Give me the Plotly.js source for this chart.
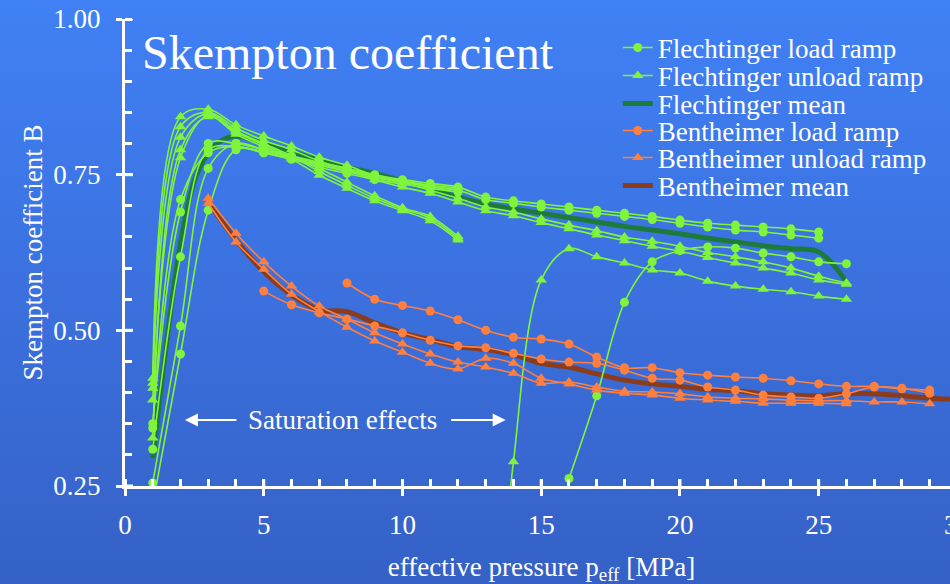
<!DOCTYPE html>
<html><head><meta charset="utf-8">
<script src="https://cdn.plot.ly/plotly-3.0.1.min.js"></script>
<style>
html,body{margin:0;padding:0;overflow:hidden;width:950px;height:584px;}
body{background:linear-gradient(to bottom,#4081f5 0%,#3b70de 50%,#3561c6 100%);}
#chart{width:960px;height:600px;}
</style></head><body><div id="chart"></div>
<script>
// ---- Flechtinger load ramps (circles) ----
const flLoad1X = [1,2,3,4,5,6,7,8,9,10,11,12,13,14,15,16,17,18,19,20,21,22,23,24,25];
const flLoad1Y = [0.35,0.69,0.80,0.80,0.79,0.778,0.768,0.76,0.75,0.742,0.736,0.73,0.714,0.708,0.703,0.698,0.693,0.688,0.683,0.677,0.672,0.669,0.666,0.663,0.658];
const flLoad2X = [1,2,3,4,5,6,7,8,9,10,11,12,13,14,15,16,17,18,19,20,21,22,23,24,25];
const flLoad2Y = [0.343,0.71,0.785,0.795,0.785,0.775,0.765,0.755,0.745,0.738,0.73,0.725,0.71,0.704,0.698,0.693,0.688,0.683,0.678,0.672,0.666,0.661,0.658,0.653,0.648];
const flLoad3X = [1,2,3,4,5,6,7,8,9,10,11,12];
const flLoad3Y = [0.255,0.507,0.76,0.80,0.79,0.78,0.77,0.76,0.748,0.74,0.733,0.729];
const flLoad4X = [1,2,3,4,5,6,7,8,9,10,11,12];
const flLoad4Y = [0.22,0.462,0.693,0.79,0.785,0.775,0.762,0.752,0.742,0.735,0.728,0.722];
const flLoad5X = [1,2,3,4,5,6,7,8,9,10,11,12];
const flLoad5Y = [0.309,0.618,0.79,0.795,0.787,0.776,0.766,0.757,0.747,0.739,0.731,0.726];
const flLoad6X = [16,17,18,19,20,21,22,23,24,25,26];
const flLoad6Y = [0.262,0.395,0.545,0.61,0.628,0.634,0.632,0.624,0.618,0.61,0.607];
// ---- Flechtinger unload ramps (triangles) ----
const flUnl1X = [1,2,3,4,5,6,7,8,9,10,11,12,13,14,15,16,17,18,19,20,21,22,23,24,25,26];
const flUnl1Y = [0.423,0.843,0.855,0.83,0.812,0.796,0.778,0.765,0.748,0.737,0.725,0.712,0.698,0.69,0.679,0.669,0.66,0.65,0.643,0.635,0.625,0.618,0.61,0.60,0.587,0.576];
const flUnl2X = [1,2,3,4,5,6,7,8,9,10,11,12,13,14,15,16,17,18,19,20,21,22,23,24,25,26];
const flUnl2Y = [0.407,0.827,0.85,0.825,0.805,0.79,0.772,0.758,0.742,0.73,0.72,0.706,0.692,0.684,0.673,0.663,0.653,0.644,0.635,0.627,0.617,0.608,0.60,0.592,0.581,0.574];
const flUnl3X = [1,2,3,4,5,6,7,8,9,10,11,12];
const flUnl3Y = [0.415,0.81,0.848,0.82,0.80,0.78,0.755,0.733,0.712,0.695,0.68,0.648];
const flUnl4X = [1,2,3,4,5,6,7,8,9,10,11,12];
const flUnl4Y = [0.388,0.777,0.845,0.815,0.795,0.775,0.749,0.728,0.708,0.692,0.676,0.645];
const flUnl5X = [1,2,3,4,5,6,7,8,9,10,11,12];
const flUnl5Y = [0.327,0.79,0.843,0.818,0.798,0.778,0.76,0.738,0.716,0.697,0.683,0.651];
const flUnl6X = [13.7,14,15,16,17,18,19,20,21,22,23,24,25,26];
const flUnl6Y = [0.15,0.289,0.581,0.631,0.618,0.608,0.597,0.592,0.579,0.571,0.566,0.562,0.555,0.55];
// ---- Flechtinger mean ----
const flMeanX = [1,1.5,2,2.5,3,3.5,4,5,6,7,8,9,10,11,12,13,14,15,16,17,18,19,20,21,22,23,24,25,26];
const flMeanY = [0.295,0.48,0.64,0.74,0.785,0.805,0.812,0.80,0.787,0.773,0.762,0.752,0.74,0.727,0.714,0.703,0.695,0.688,0.681,0.674,0.667,0.661,0.655,0.648,0.642,0.636,0.631,0.626,0.578];
// ---- Bentheimer load ramps (circles) ----
const bhLoad1X = [8,9,10,11,12,13,14,15,16,17,18,19,20,21,22,23,24,25,26,27,28,29];
const bhLoad1Y = [0.576,0.55,0.54,0.531,0.517,0.50,0.489,0.486,0.478,0.457,0.44,0.44,0.432,0.428,0.425,0.423,0.419,0.414,0.41,0.41,0.406,0.404];
const bhLoad2X = [5,6,7,8,9,10,11,12,13,14,15,16,17,18,19,20,21,22,23,24,25,26,27,28,29];
const bhLoad2Y = [0.563,0.541,0.528,0.518,0.507,0.496,0.484,0.475,0.472,0.463,0.454,0.449,0.447,0.436,0.423,0.42,0.409,0.404,0.396,0.393,0.391,0.398,0.409,0.407,0.399];
// ---- Bentheimer unload ramps (triangles) ----
const bhUnl1X = [3,4,5,6,7,8,9,10,11,12,13,14,15,16,17,18,19,20,21,22,23,24,25,26,27,28,29];
const bhUnl1Y = [0.712,0.656,0.61,0.571,0.539,0.518,0.496,0.478,0.462,0.449,0.441,0.431,0.415,0.417,0.409,0.402,0.401,0.398,0.393,0.391,0.39,0.388,0.387,0.387,0.385,0.385,0.382];
const bhUnl2X = [3,4,5,6,7,8,9,10,11,12,13,14,15,16,17,18,19,20,21,22,23,24,25,26];
const bhUnl2Y = [0.704,0.642,0.598,0.558,0.53,0.505,0.483,0.465,0.447,0.438,0.455,0.447,0.423,0.414,0.404,0.399,0.396,0.391,0.388,0.386,0.383,0.383,0.383,0.382];
// ---- Bentheimer mean ----
const bhMeanX = [3,4,5,6,7,8,9,10,11,12,13,14,15,16,17,18,19,20,21,22,23,24,25,26,27,28,29,30];
const bhMeanY = [0.706,0.645,0.594,0.557,0.533,0.53,0.512,0.496,0.485,0.474,0.469,0.461,0.447,0.441,0.43,0.42,0.414,0.41,0.405,0.403,0.398,0.396,0.395,0.398,0.398,0.395,0.391,0.389];

const xTickVals = [0,5,10,15,20,25,30];
const yTickVals = [0.25,0.50,0.75,1.00];
const yTickText = ['0.25','0.50','0.75','1.00'];
const legendNames = ['Flechtinger load ramp','Flechtinger unload ramp','Flechtinger mean',
                     'Bentheimer load ramp','Bentheimer unload ramp','Bentheimer mean'];

const FONT = 'Liberation Serif, Times New Roman, serif';
const GREEN = '#80f43c', DGREEN = '#1d7b3a', ORANGE = '#ff7f3f', BROWN = '#8a3c1c';
const LEGIDS = ['legend','legend2','legend3','legend4','legend5','legend6'];

function ramp(x, y, color, symbol, idx, show) {
  return {x:x, y:y, type:'scatter', mode:'lines+markers', name:legendNames[idx], legend:LEGIDS[idx],
    showlegend:show,
    line:{color:color, width:1.6, shape:'spline', smoothing:1},
    marker:{color:color, symbol:symbol, size: symbol==='circle'?9:10}};
}
function mean(x, y, color, idx) {
  return {x:x, y:y, type:'scatter', mode:'lines', name:legendNames[idx], legend:LEGIDS[idx],
    line:{color:color, width:5, shape:'spline', smoothing:1}};
}

const traces = [
  mean(flMeanX, flMeanY, DGREEN, 2),
  mean(bhMeanX, bhMeanY, BROWN, 5),
  ramp(flLoad1X, flLoad1Y, GREEN, 'circle', 0, true),
  ramp(flLoad2X, flLoad2Y, GREEN, 'circle', 0, false),
  ramp(flLoad3X, flLoad3Y, GREEN, 'circle', 0, false),
  ramp(flLoad4X, flLoad4Y, GREEN, 'circle', 0, false),
  ramp(flLoad5X, flLoad5Y, GREEN, 'circle', 0, false),
  ramp(flLoad6X, flLoad6Y, GREEN, 'circle', 0, false),
  ramp(flUnl1X, flUnl1Y, GREEN, 'triangle-up', 1, true),
  ramp(flUnl2X, flUnl2Y, GREEN, 'triangle-up', 1, false),
  ramp(flUnl3X, flUnl3Y, GREEN, 'triangle-up', 1, false),
  ramp(flUnl4X, flUnl4Y, GREEN, 'triangle-up', 1, false),
  ramp(flUnl5X, flUnl5Y, GREEN, 'triangle-up', 1, false),
  ramp(flUnl6X, flUnl6Y, GREEN, 'triangle-up', 1, false),
  ramp(bhLoad1X, bhLoad1Y, ORANGE, 'circle', 3, true),
  ramp(bhLoad2X, bhLoad2Y, ORANGE, 'circle', 3, false),
  ramp(bhUnl1X, bhUnl1Y, ORANGE, 'triangle-up', 4, true),
  ramp(bhUnl2X, bhUnl2Y, ORANGE, 'triangle-up', 4, false)
];

const shapes = [];
xTickVals.forEach(function(t){
  shapes.push({type:'line', xref:'x', yref:'y', x0:t, x1:t, ysizemode:'pixel', yanchor:0.25, y0:0, y1:7,
    line:{color:'white', width:3}});
});
yTickVals.forEach(function(t){
  shapes.push({type:'line', xref:'x', yref:'y', y0:t, y1:t, xsizemode:'pixel', xanchor:0, x0:0, x1:8,
    line:{color:'white', width:3}});
});

// legend rows: pixel centres -> paper y of plot area (top 19, bottom 486)
const legendRowsPx = [48,76,104,131,158,186];

const layout = {
  width:960, height:600,
  margin:{l:125, r:2, t:19, b:114},
  paper_bgcolor:'rgba(0,0,0,0)', plot_bgcolor:'rgba(0,0,0,0)',
  font:{family:FONT, color:'white', size:22},
  title:{text:'Skempton coefficient', font:{family:FONT, size:48, color:'white'},
    xref:'container', x:142/960, xanchor:'left', yref:'container', y:1-52/600, yanchor:'middle'},
  xaxis:{range:[0,30.02], tickvals:xTickVals, ticktext:xTickVals.map(String), ticks:'outside', ticklen:7, tickwidth:3,
    tickcolor:'white', showline:true, linecolor:'white', linewidth:3, showgrid:false, zeroline:false,
    tickfont:{family:FONT, size:27, color:'white'}, ticklabelstandoff:6, ticklabeloverflow:'allow',
    minor:{dtick:1, ticks:'inside', ticklen:7, tickwidth:3, tickcolor:'white', showgrid:false},
    title:{text:'effective pressure p<sub>eff</sub> [MPa]', font:{family:FONT, size:27, color:'white'}, standoff:18}},
  yaxis:{range:[0.25,1.0], tickvals:yTickVals, ticktext:yTickText, ticks:'outside', ticklen:6, tickwidth:3,
    tickcolor:'white', showline:true, linecolor:'white', linewidth:3, showgrid:false, zeroline:false,
    tickfont:{family:FONT, size:27, color:'white'}, ticklabelstandoff:10,
    minor:{dtick:0.05, ticks:'inside', ticklen:7, tickwidth:3, tickcolor:'white', showgrid:false},
    title:{text:'Skempton coefficient B', font:{family:FONT, size:27, color:'white'}, standoff:3}},
  shapes:shapes,
  annotations:[
    {x:7.85, y:0.356, xref:'x', yref:'y', text:'Saturation effects', showarrow:false,
      font:{family:FONT, size:27, color:'white'}},
    {x:2.16, y:0.356, ax:4.07, ay:0.356, axref:'x', ayref:'y', xref:'x', yref:'y', text:'', showarrow:true,
      arrowhead:2, arrowsize:1.3, arrowwidth:2, arrowcolor:'white'},
    {x:13.72, y:0.356, ax:11.7, ay:0.356, axref:'x', ayref:'y', xref:'x', yref:'y', text:'', showarrow:true,
      arrowhead:2, arrowsize:1.3, arrowwidth:2, arrowcolor:'white'}
  ],
  showlegend:true
};
LEGIDS.forEach(function(id, i){
  layout[id] = {x:0.5916, xanchor:'left', y:(486-legendRowsPx[i])/467, yanchor:'middle',
    bgcolor:'rgba(0,0,0,0)', itemwidth:30, font:{family:FONT, size:27, color:'white'}};
});
Plotly.newPlot('chart', traces, layout, {displayModeBar:false, staticPlot:true});
</script></body></html>
